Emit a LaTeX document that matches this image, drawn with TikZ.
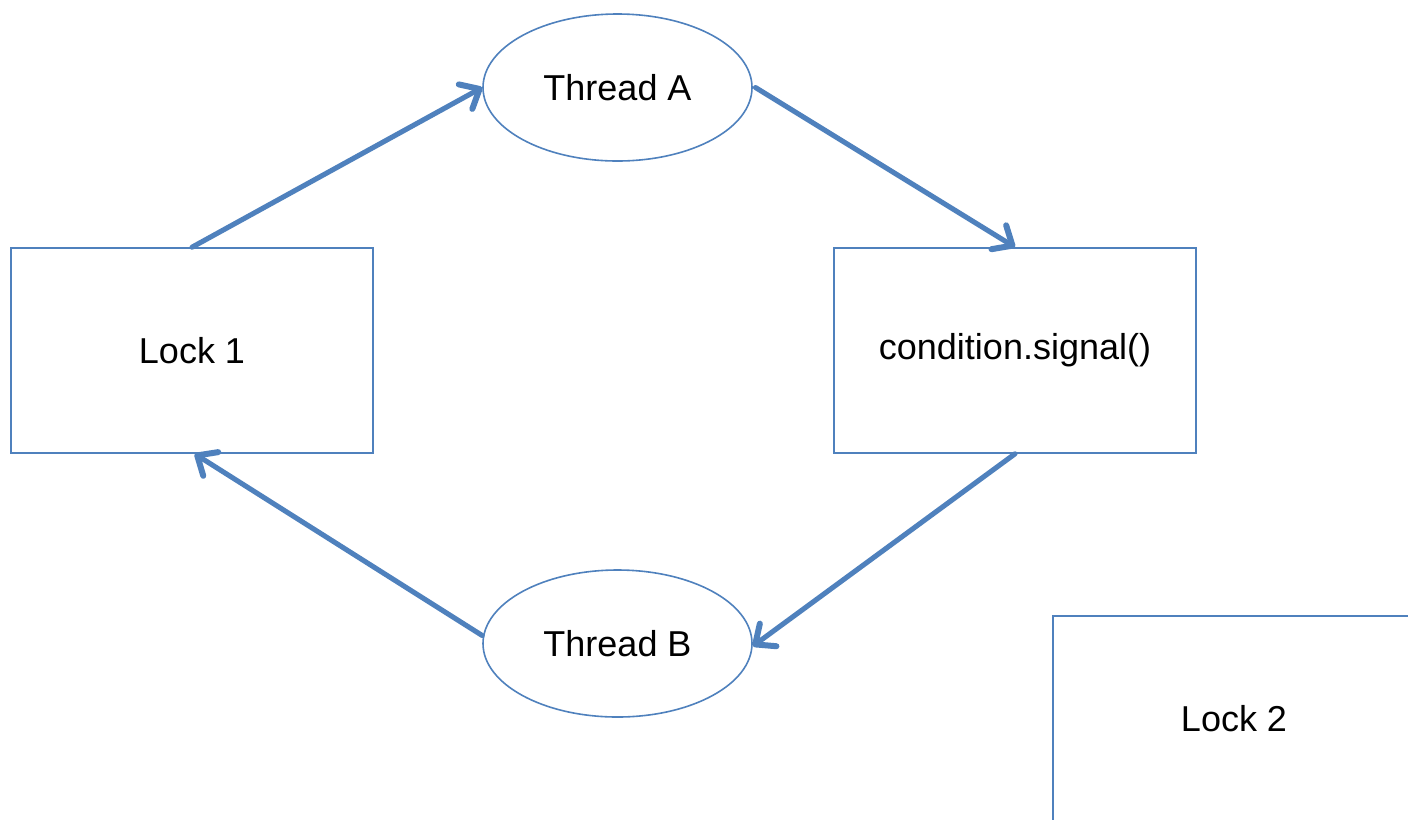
\documentclass[tikz,border=0pt]{standalone}
\usepackage{fontspec}
\setmainfont{Liberation Sans}
\usetikzlibrary{arrows.meta,shapes.geometric}
\definecolor{officeblue}{RGB}{79,129,189}
\tikzset{
  lockbox/.style={draw=officeblue, line width=1.2pt, fill=white, rectangle,
    minimum width=362*0.75pt, minimum height=205*0.75pt, inner sep=0pt,
    font=\fontsize{27}{32}\selectfont},
  threadnode/.style={draw=officeblue, line width=1.2pt, fill=white, ellipse,
    minimum width=269*0.75pt, minimum height=147*0.75pt, inner sep=0pt,
    font=\fontsize{27}{32}\selectfont},
  flow/.style={draw=officeblue, line width=3.8pt, line cap=round,
    -{Straight Barb[length=12pt, width=21pt, line width=4.5pt, round]}}
}
\begin{document}
\begin{tikzpicture}[x=0.75pt, y=-0.75pt]
  \useasboundingbox (0,0) rectangle (1408,819);
  \clip (0,0) rectangle (1408,819);
  \fill[white] (0,0) rectangle (1408,819);

  \node[lockbox] (lockone) at (192,350.5) {Lock 1};
  \node[lockbox] (signal) at (1015,350.5) {condition.signal()};
  \node[threadnode] (threada) at (617.5,87.5) {Thread A};
  \node[threadnode] (threadb) at (617.5,643.5) {Thread B};
  \node[lockbox] (locktwo) at (1234,718.5) {Lock 2};

  \draw[flow] (lockone.north) -- (threada.west);
  \draw[flow] ([xshift=2pt]threada.east) -- (signal.north);
  \draw[flow] (signal.south) -- ([yshift=-2pt]threadb.east);
  \draw[flow] ([yshift=6pt]threadb.west) -- ([xshift=2pt]lockone.south);
\end{tikzpicture}
\end{document}
